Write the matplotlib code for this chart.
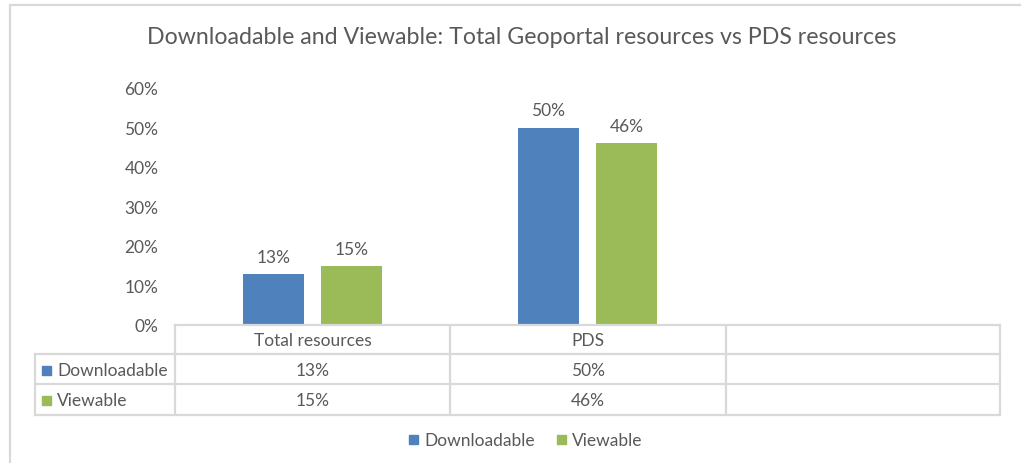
import numpy as np
import matplotlib.pyplot as plt
from matplotlib.lines import Line2D
from matplotlib.patches import Rectangle

plt.rcParams['font.family'] = ['Lato', 'DejaVu Sans']

categories = ['Total resources', 'PDS', '']
series_names = ['Downloadable', 'Viewable']
downloadable = [0.13, 0.50, np.nan]
viewable = [0.15, 0.46, np.nan]
colors = ['#4F81BD', '#9BBB59']
title = 'Downloadable and Viewable: Total Geoportal resources vs PDS resources'

W, H = 1021, 464
grey = '#595959'
line_c = '#D9D9D9'
fs = 12.5

fig = plt.figure(figsize=(W / 100, H / 100), dpi=100)


def fx(px):
    return px / W


def fy(py):
    return 1 - py / H


# chart border
fig.add_artist(Rectangle((fx(10), fy(470)), fx(1030), 1, transform=fig.transFigure,
                         fill=False, ec=line_c, lw=1.6))

ax_left, ax_right, ax_top, ax_bot = 175, 1000, 89, 326
ax = fig.add_axes([fx(ax_left), fy(ax_bot), fx(ax_right - ax_left), (ax_bot - ax_top) / H])

x = np.arange(len(categories))
bw = 0.222
offs = [-0.142, 0.143]
for vals, off, c in zip([downloadable, viewable], offs, colors):
    bars = ax.bar(x + off, vals, bw, color=c)
    for xi, v in zip(x, vals):
        if not np.isnan(v):
            ax.annotate(f'{v:.0%}', (xi + off, v), xytext=(0, 6.5), textcoords='offset points',
                        ha='center', va='bottom', fontsize=fs, color=grey)

ax.set_xlim(-0.5, len(categories) - 0.5)
ax.set_ylim(0, 0.6)
ax.set_yticks(np.arange(0, 0.61, 0.1))
ax.set_yticklabels([f'{t:.0%}' for t in np.arange(0, 0.61, 0.1)], fontsize=fs, color=grey)
ax.tick_params(axis='y', length=0, pad=12)
ax.set_xticks([])
for s in ax.spines.values():
    s.set_visible(False)

fig.text(fx(522), fy(37), title, ha='center', va='center', fontsize=16.7, color=grey)

# data table
col_edges = [175, 450, 726, 1000]
row_edges = [326, 355, 385, 416]
tab_left = 35
lk = dict(color=line_c, lw=1.6, transform=fig.transFigure)
fig.add_artist(Line2D([fx(col_edges[0]), fx(col_edges[-1])], [fy(row_edges[0])] * 2, **lk))
for r in row_edges[1:]:
    fig.add_artist(Line2D([fx(tab_left), fx(col_edges[-1])], [fy(r)] * 2, **lk))
for c in col_edges:
    fig.add_artist(Line2D([fx(c)] * 2, [fy(row_edges[0]), fy(row_edges[-1])], **lk))
fig.add_artist(Line2D([fx(tab_left)] * 2, [fy(row_edges[1]), fy(row_edges[-1])], **lk))

for i, cat in enumerate(categories):
    cx = (col_edges[i] + col_edges[i + 1]) / 2
    fig.text(fx(cx), fy((row_edges[0] + row_edges[1]) / 2 + 1), cat, ha='center', va='center',
             fontsize=fs, color=grey)
for j, (name, vals, c) in enumerate(zip(series_names, [downloadable, viewable], colors)):
    cy = (row_edges[j + 1] + row_edges[j + 2]) / 2 + 1
    fig.add_artist(Rectangle((fx(42), fy(cy + 4.5)), fx(9), 9 / H, color=c, transform=fig.transFigure))
    fig.text(fx(57), fy(cy), name, ha='left', va='center', fontsize=fs, color=grey)
    for i, v in enumerate(vals):
        if not np.isnan(v):
            cx = (col_edges[i] + col_edges[i + 1]) / 2
            fig.text(fx(cx), fy(cy), f'{v:.0%}', ha='center', va='center', fontsize=fs, color=grey)

# legend
leg_x = [409, 557]
for lx, name, c in zip(leg_x, series_names, colors):
    fig.add_artist(Rectangle((fx(lx), fy(445)), fx(9), 9 / H, color=c, transform=fig.transFigure))
    fig.text(fx(lx + 15), fy(441), name, ha='left', va='center', fontsize=fs, color=grey)

fig.savefig('out.png', dpi=100)
